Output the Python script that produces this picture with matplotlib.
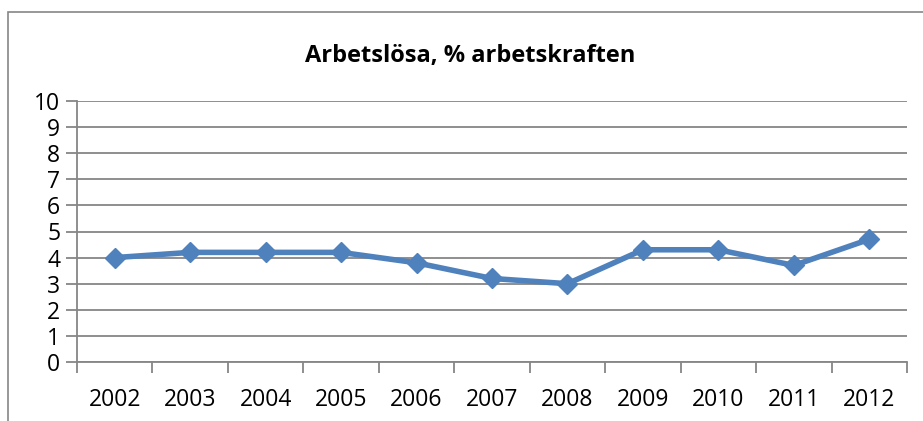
import matplotlib.pyplot as plt
from matplotlib.patches import Rectangle

years = ['2002', '2003', '2004', '2005', '2006', '2007', '2008', '2009', '2010', '2011', '2012']
unemployment = [4.0, 4.2, 4.2, 4.2, 3.8, 3.2, 3.0, 4.3, 4.3, 3.7, 4.7]
yticks = list(range(0, 11))

plt.rcParams['font.family'] = ['Open Sans', 'DejaVu Sans']

W, H = 923, 421
fig = plt.figure(figsize=(W / 100, H / 100), dpi=100)

# outer chart frame (cut off at right/bottom like the screenshot)
fig.patches.append(Rectangle((8 / W, -0.1), 1.2, 1.1 - 12 / H,
                             transform=fig.transFigure, fill=False,
                             edgecolor='#868686', linewidth=1.2))

left, right, top, bottom = 77, 907, 101, 362
ax = fig.add_axes([left / W, 1 - bottom / H, (right - left) / W, (bottom - top) / H])

x = list(range(len(years)))
ax.plot(x, unemployment, color='#4F81BD', linewidth=4, marker='D',
        markersize=10.5, markeredgecolor='#4F81BD', zorder=3, clip_on=False)

ax.set_xlim(-0.5, len(years) - 0.5)
ax.set_ylim(0, 10)
ax.set_yticks(yticks)
ax.set_yticklabels([str(t) for t in yticks])
ax.set_xticks(x)
ax.set_xticklabels(years)
ax.set_xticks([i - 0.5 for i in range(len(years) + 1)], minor=True)

ax.grid(axis='y', color='#868686', linewidth=1.3)
ax.set_axisbelow(True)
for s in ['top', 'right']:
    ax.spines[s].set_visible(False)
for s in ['left', 'bottom']:
    ax.spines[s].set_color('#868686')
    ax.spines[s].set_linewidth(1.3)

ax.tick_params(axis='y', length=8, width=1.3, color='#868686', labelsize=16.5, pad=4)
ax.tick_params(axis='x', which='major', length=0, labelsize=16.5, pad=19)
ax.tick_params(axis='x', which='minor', length=8, width=1.3, color='#868686')

fig.text(470 / W, 1 - 56 / H, 'Arbetslösa, % arbetskraften', ha='center', va='center',
         fontsize=17, fontweight='bold')

fig.savefig('out.png', dpi=100)
